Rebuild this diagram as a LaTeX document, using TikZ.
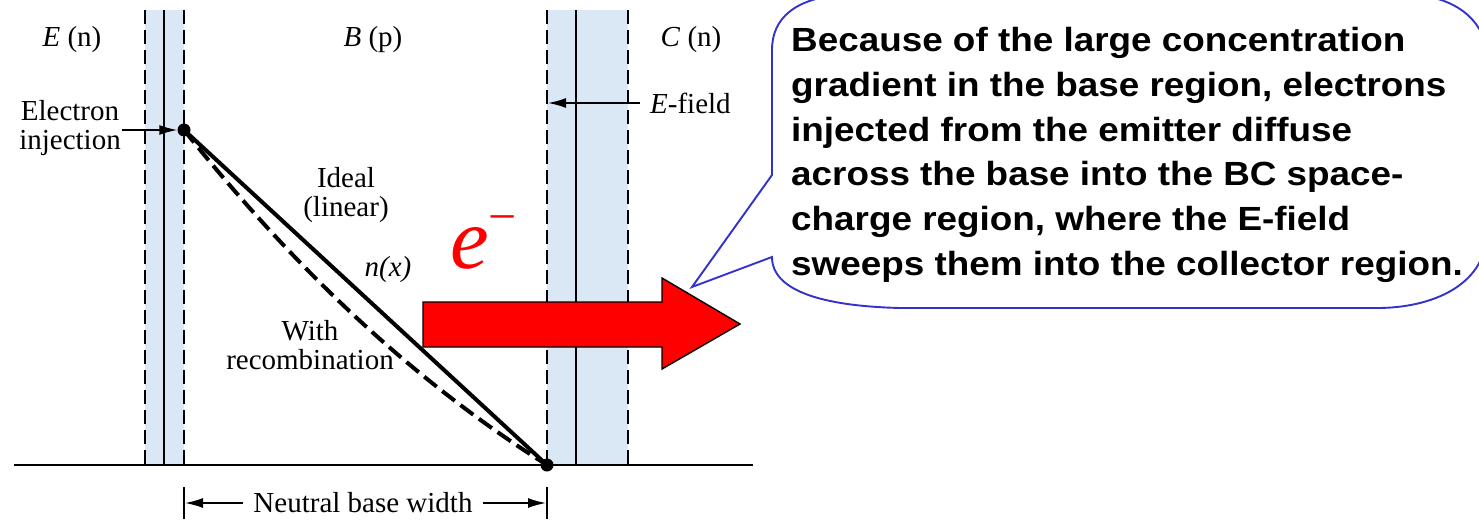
\documentclass[tikz,border=0pt]{standalone}
\usepackage{fontspec}
\setmainfont{Liberation Serif}
\newfontfamily\calloutfont[FakeStretch=1.1]{Liberation Sans}
\usetikzlibrary{arrows.meta}
\definecolor{regionblue}{RGB}{218,232,246}
\definecolor{calloutblue}{RGB}{51,51,204}
\begin{document}
\begin{tikzpicture}[x=1pt,y=-1pt,
  bound/.style={line width=1.8pt, dash pattern=on 14pt off 6pt},
  midline/.style={line width=1.6pt},
  lbl/.style={font=\fontsize{29}{31}\selectfont, inner sep=0pt},
  dotnode/.style={circle, fill=black, minimum size=13pt, inner sep=0pt},
  arr/.style={-{Latex[length=18pt,width=10pt]}, line width=1.6pt},
  ctext/.style={font=\calloutfont\bfseries\fontsize{33.5}{40}\selectfont, inner sep=0pt, anchor=base west}]
\useasboundingbox (0,0) rectangle (1479,519);
\clip (0,0) rectangle (1479,519);

% depletion regions
\fill[regionblue] (145,10) rectangle (184,465);
\fill[regionblue] (547,10) rectangle (628,465);
\draw[bound] (145,10) -- (145,465);
\draw[bound] (184,10) -- (184,465);
\draw[midline] (164,10) -- (164,465);
\draw[bound] (547,10) -- (547,465);
\draw[bound] (628,10) -- (628,465);
\draw[midline] (576,10) -- (576,465);

% baseline
\draw[line width=1.8pt] (14,465) -- (753,465);

% region labels
\node[lbl] (lE) at (72,40) {\textit{E} (n)};
\node[lbl] (lB) at (373,40) {\textit{B} (p)};
\node[lbl] (lC) at (691,40) {\textit{C} (n)};

% n(x) profile
\node[dotnode] (p1) at (184,130) {};
\node[dotnode] (p2) at (547,465) {};
\draw[line width=4pt] (p1.center) -- (p2.center);
\draw[line width=4pt, dash pattern=on 16pt off 7pt] (p1.center) .. controls (288,260) and (403,374) .. (p2.center);

% electron injection
\node[lbl, align=center] (inj) at (70,128) {Electron\\[-2pt]injection};
\coordinate (injstart) at (122,130);
\draw[arr] (injstart) -- (p1);

% E-field
\node[lbl, anchor=west] (ef) at (650,103) {\textit{E}-field};
\coordinate (efend) at (548,103);
\draw[arr] ([xshift=-10pt]ef.west) -- (efend);

% curve labels
\node[lbl, align=center] (ideal) at (346,195) {Ideal\\[-2pt](linear)};
\node[lbl] (nx) at (388,270) {\textit{n}\textit{(x)}};
\node[lbl, align=center] (withrec) at (310,345) {With\\[-2pt]recombination};

% neutral base width
\node[lbl] (nbw) at (363,503) {Neutral base width};
\coordinate (nbl) at (185,503);
\coordinate (nbr) at (546,503);
\draw[line width=1.6pt] (184,487) -- (184,519);
\draw[line width=1.6pt] (547,487) -- (547,519);
\draw[arr] ([xshift=-10pt]nbw.west) -- (nbl);
\draw[arr] ([xshift=10pt]nbw.east) -- (nbr);

% electron symbol
\node[inner sep=0pt, anchor=base west, text=red] (eminus) at (450,268)
  {{\fontsize{87}{87}\selectfont\itshape e}\raisebox{35pt}{\fontsize{50}{50}\selectfont −}};

% big red arrow
\draw[fill=red, line width=1.4pt, line join=miter]
  (423,302) -- (662,302) -- (662,278) -- (740,324) -- (662,369) -- (662,347) -- (423,347) -- cycle;

% callout
\draw[calloutblue, line width=1.9pt, line join=miter]
  (772,175) -- (772,50) .. controls (772,18) and (795,-2) .. (845,-6)
  -- (1400,-6) .. controls (1450,-6) and (1478,15) .. (1486,45)
  -- (1486,235) .. controls (1486,280) and (1440,307) .. (1380,308)
  -- (900,308) .. controls (820,306) and (772,290) .. (772,257)
  -- (692,287) -- cycle;
\node[ctext] (c1) at (791,52) {Because of the large concentration};
\node[ctext] (c2) at (791,96.6) {gradient in the base region, electrons};
\node[ctext] (c3) at (791,141.2) {injected from the emitter diffuse};
\node[ctext] (c4) at (791,185.8) {across the base into the BC space-};
\node[ctext] (c5) at (791,230.4) {charge region, where the E-field};
\node[ctext] (c6) at (791,275) {sweeps them into the collector region.};
\end{tikzpicture}
\end{document}
